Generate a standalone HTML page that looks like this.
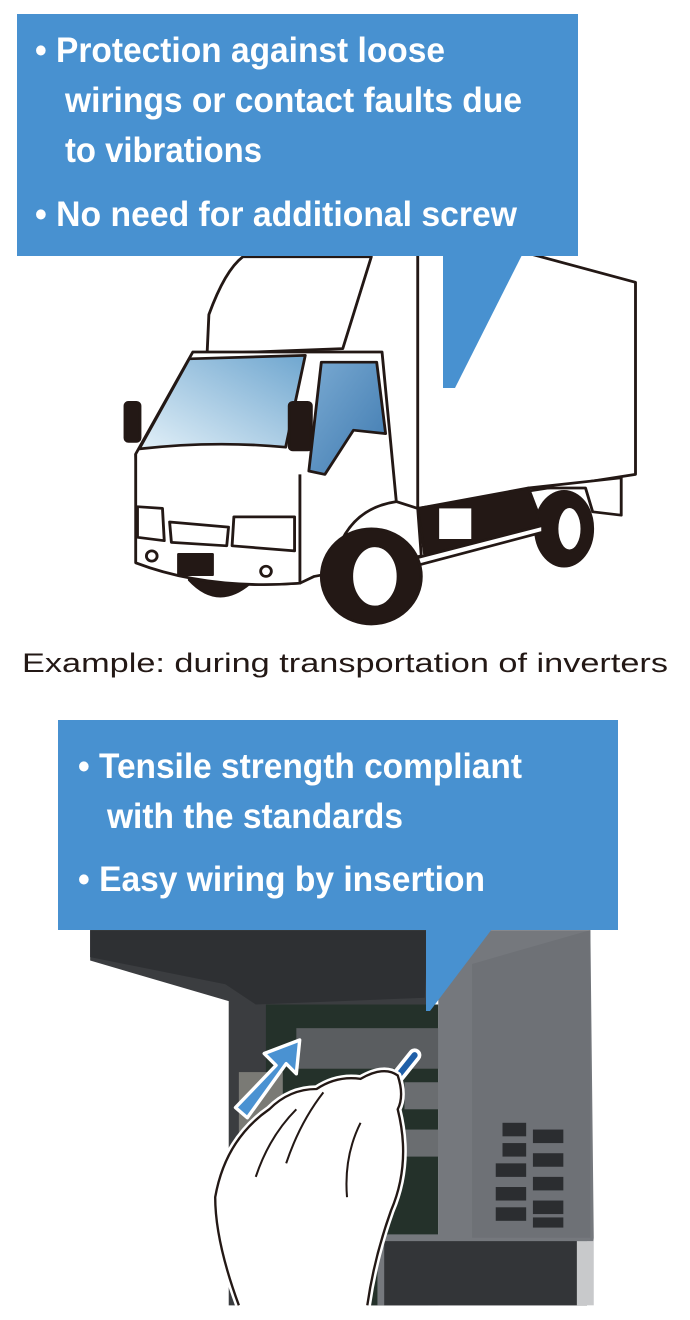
<!DOCTYPE html>
<html><head><meta charset="utf-8"><style>
html,body{margin:0;padding:0;background:#fff;}
svg{display:block}
.t{font-family:"Liberation Sans Narrow","Liberation Sans",sans-serif;font-weight:bold;font-size:35px;fill:#fff}
</style></head><body>
<svg width="690" height="1320" viewBox="0 0 690 1320" xmlns="http://www.w3.org/2000/svg">
<defs>
<linearGradient id="g1" x1="0" y1="1" x2="1" y2="0"><stop offset="0" stop-color="#e2f0f8"/><stop offset="1" stop-color="#6fa6cf"/></linearGradient>
<linearGradient id="g2" x1="0" y1="0" x2="1" y2="1"><stop offset="0" stop-color="#7aaad2"/><stop offset="1" stop-color="#3f7ab0"/></linearGradient>
</defs>
<g transform="translate(100,250) scale(0.357,0.34)" stroke="#231815" stroke-width="8" stroke-linejoin="round">
 <path d="M890,0 L890,760 L1500,660 L1500,95 L1200,10" fill="#fff"/>
 <path d="M890,760 L910,900 L1240,810 L1200,700 Z" fill="#231815"/>
 <rect x="950" y="760" width="90" height="90" fill="#fff" stroke="none"/>
 <path d="M1200,700 L1460,670 L1460,780 L1380,770 L1360,700 Z" fill="#fff"/>
 <ellipse cx="1300" cy="820" rx="80" ry="110" fill="#231815"/>
 <ellipse cx="1315" cy="820" rx="35" ry="65" fill="#fff"/>
 <path d="M870,910 L1240,810 L1240,830 L880,930Z" fill="#fff"/>
 <path d="M300,305 L305,190 Q350,60 400,20 L760,20 L680,290 Z" fill="#fff"/>
 <path d="M100,600 L260,300 L790,300 L830,740 L890,760 L900,900 L600,960 L560,980 Q300,1000 110,920 Z" fill="#fff"/>
 <path d="M110,585 L250,320 L575,310 L520,580 Q320,560 110,585Z" fill="url(#g1)"/>
 <path d="M620,330 L775,330 L800,540 L710,530 L630,660 L585,650 Z" fill="url(#g2)"/>
 <rect x="70" y="448" width="42" height="115" rx="10" fill="#231815"/>
 <rect x="530" y="448" width="62" height="140" rx="10" fill="#231815"/>
 <path d="M830,740 Q700,760 660,900" fill="none"/>
 <ellipse cx="760" cy="960" rx="140" ry="140" fill="#231815"/>
 <ellipse cx="770" cy="960" rx="65" ry="90" fill="#fff"/>
 <path d="M250,970 Q330,1060 420,980 Z" fill="#231815"/>
 <path d="M100,600 L100,920 Q300,1000 560,980 L560,660" fill="#fff"/>
 <path d="M105,755 L175,760 L180,855 L105,845Z" fill="#fff"/>
 <path d="M195,800 L360,815 L355,870 L200,860Z" fill="#fff"/>
 <path d="M375,785 L545,785 L545,885 L370,870Z" fill="#fff"/>
 <circle cx="145" cy="900" r="15" fill="#fff"/>
 <circle cx="465" cy="945" r="15" fill="#fff"/>
 <rect x="220" y="895" width="95" height="60" fill="#231815"/>
</g>
<rect x="17" y="14" width="561" height="242" fill="#4891d0"/>
<polygon points="443,255 522,255 455,388 443,388" fill="#4891d0"/>
<text class="t" x="35" y="62" textLength="410" lengthAdjust="spacingAndGlyphs">• Protection against loose</text>
<text class="t" x="65" y="112" textLength="457" lengthAdjust="spacingAndGlyphs">wirings or contact faults due</text>
<text class="t" x="65" y="162" textLength="197" lengthAdjust="spacingAndGlyphs">to vibrations</text>
<text class="t" x="35" y="226" textLength="482" lengthAdjust="spacingAndGlyphs">• No need for additional screw</text>
<text x="22" y="672" textLength="646" lengthAdjust="spacingAndGlyphs" font-family="Liberation Sans,sans-serif" font-size="27" fill="#231815">Example: during transportation of inverters</text>
<g transform="translate(80,920) scale(0.338)">
 <path d="M30,30 L1030,30 L1030,1140 L440,1140 L440,240 L30,120Z" fill="#3b3d40"/>
 <path d="M30,30 L1030,30 L1020,230 L520,250 L430,190 L30,110Z" fill="#2e3033"/>
 <rect x="550" y="250" width="510" height="890" fill="#24312a"/>
 <rect x="640" y="320" width="420" height="120" fill="#5a5d60"/>
 <rect x="960" y="480" width="100" height="80" fill="#6a6d70"/>
 <rect x="960" y="620" width="100" height="80" fill="#6a6d70"/>
 <rect x="470" y="450" width="130" height="200" fill="#7a7a75"/>
 <path d="M1060,30 L1510,30 L1520,940 L1500,1140 L880,1140 L880,930 L1060,930Z" fill="#75787d"/>
 <path d="M1160,130 L1510,30 L1510,940 L1160,940Z" fill="#6e7176"/>
 <g fill="#2b2d30"><rect x="1250" y="600" width="70" height="40"/><rect x="1340" y="620" width="90" height="40"/><rect x="1250" y="660" width="70" height="40"/><rect x="1340" y="690" width="90" height="40"/><rect x="1230" y="720" width="90" height="40"/><rect x="1340" y="760" width="90" height="40"/><rect x="1230" y="790" width="90" height="40"/><rect x="1340" y="830" width="90" height="40"/><rect x="1230" y="850" width="90" height="40"/><rect x="1340" y="880" width="90" height="30"/></g>
 <path d="M900,950 L1500,950 L1500,1140 L900,1140Z" fill="#333538"/>
 <rect x="1470" y="950" width="50" height="190" fill="#c8c9cb"/>
 <path d="M460,555 L580,430 L545,395 L650,355 L640,455 L610,425 L495,585Z" fill="#4a92d2" stroke="#fff" stroke-width="10" stroke-linejoin="round"/>
 <path d="M810,760 L860,560 L950,450 L990,400" stroke="#fff" stroke-width="40" stroke-linecap="round" fill="none"/>
 <path d="M810,760 L860,560 L950,450 L990,400" stroke="#1f5fa8" stroke-width="18" stroke-linecap="round" fill="none"/>
 <path d="M470,1140 Q400,950 400,820 Q430,650 560,560 Q620,500 700,500 Q760,460 830,470 Q900,430 940,460 Q960,520 940,560 Q980,720 920,860 Q870,1000 850,1140Z" fill="#fff" stroke="#fff" stroke-width="22" stroke-linejoin="round"/>
 <path d="M470,1140 Q400,950 400,820 Q430,650 560,560 Q620,500 700,500 Q760,460 830,470 Q900,430 940,460 Q960,520 940,560 Q980,720 920,860 Q870,1000 850,1140" fill="none" stroke="#231815" stroke-width="7"/>
 <path d="M520,760 Q560,640 640,560 M610,720 Q650,600 720,510 M790,820 Q780,700 830,600" fill="none" stroke="#231815" stroke-width="6"/>
</g>
<rect x="58" y="720" width="560" height="210" fill="#4891d0"/>
<polygon points="426,929 492,929 430,1011 426,1011" fill="#4891d0"/>
<text class="t" x="78" y="778" textLength="444" lengthAdjust="spacingAndGlyphs">• Tensile strength compliant</text>
<text class="t" x="107" y="828" textLength="296" lengthAdjust="spacingAndGlyphs">with the standards</text>
<text class="t" x="78" y="891" textLength="407" lengthAdjust="spacingAndGlyphs">• Easy wiring by insertion</text>
</svg>
</body></html>
